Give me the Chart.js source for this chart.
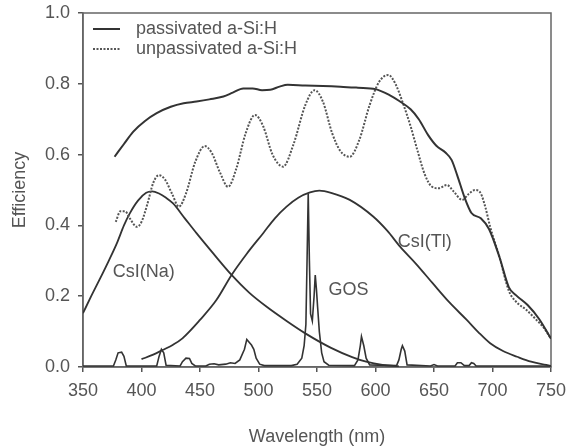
<!DOCTYPE html>
<html>
<head>
<meta charset="utf-8">
<title>Efficiency vs wavelength</title>
<script src="https://cdn.jsdelivr.net/npm/chart.js@4.4.1/dist/chart.umd.min.js"></script>
<style>
  html, body { margin: 0; padding: 0; background: #fff; }
  #chart { display: block; }
</style>
</head>
<body>
<canvas id="chart" width="568" height="448"></canvas>
<script>
const xTicks = [350, 400, 450, 500, 550, 600, 650, 700, 750];
const yTicks = [0, 0.2, 0.4, 0.6, 0.8, 1.0];

const passivatedWl = [377, 385, 393, 403, 413, 425, 436, 447, 458, 470, 478, 487, 495, 503, 510, 518, 525, 540, 555, 570, 585, 600, 612, 620, 630, 637, 645, 652, 660, 665, 670, 676, 682, 690, 697, 706, 714, 720, 730, 740, 750];
const passivatedEff = [0.594, 0.63, 0.665, 0.695, 0.717, 0.735, 0.745, 0.75, 0.756, 0.764, 0.775, 0.787, 0.787, 0.782, 0.783, 0.792, 0.797, 0.795, 0.794, 0.792, 0.789, 0.785, 0.768, 0.752, 0.728, 0.70, 0.655, 0.625, 0.605, 0.585, 0.54, 0.48, 0.435, 0.42, 0.39, 0.31, 0.225, 0.203, 0.175, 0.135, 0.08];

const unpassivatedWl = [378, 382, 386, 390, 396, 400, 405, 410, 415, 420, 426, 432, 438, 446, 454, 460, 467, 474, 481, 489, 497, 504, 512, 521, 530, 540, 548, 555, 563, 570, 578, 586, 595, 603, 611, 617, 624, 630, 636, 642, 648, 654, 661, 667, 674, 680, 685, 690, 694, 698, 706, 714, 720, 729, 737, 744, 750];
const unpassivatedEff = [0.41, 0.44, 0.44, 0.42, 0.396, 0.41, 0.46, 0.52, 0.542, 0.53, 0.49, 0.453, 0.49, 0.58, 0.624, 0.605, 0.55, 0.509, 0.56, 0.66, 0.712, 0.68, 0.6, 0.566, 0.63, 0.74, 0.782, 0.75, 0.66, 0.61, 0.594, 0.64, 0.74, 0.805, 0.825, 0.8, 0.74, 0.68, 0.61, 0.545, 0.51, 0.505, 0.514, 0.495, 0.472, 0.49, 0.5, 0.49, 0.45, 0.396, 0.31, 0.215, 0.185, 0.161, 0.135, 0.11, 0.08];

const csiNaWl = [350, 357, 364, 372, 379, 385, 390, 397, 404, 409, 415, 421, 427, 437, 447, 462, 477, 492, 507, 524, 540, 562, 580, 592, 606, 620];
const csiNaEff = [0.152, 0.2, 0.246, 0.3, 0.35, 0.4, 0.434, 0.47, 0.492, 0.496, 0.49, 0.478, 0.462, 0.42, 0.378, 0.318, 0.26, 0.21, 0.17, 0.13, 0.095, 0.054, 0.028, 0.015, 0.006, 0.002];

const csiTlWl = [400, 410, 418, 427, 435, 450, 464, 477, 490, 504, 514, 524, 534, 544, 552, 562, 578, 598, 610, 621, 635, 649, 663, 678, 688, 698, 709, 721, 733, 746, 750];
const csiTlEff = [0.022, 0.035, 0.048, 0.063, 0.081, 0.133, 0.189, 0.26, 0.32, 0.378, 0.42, 0.453, 0.478, 0.493, 0.498, 0.492, 0.472, 0.425, 0.385, 0.34, 0.29, 0.236, 0.183, 0.133, 0.098, 0.067, 0.045, 0.029, 0.015, 0.006, 0.003];

const gosWl = [350, 376, 378, 380, 383, 385, 387, 413, 415, 417, 419, 421, 433, 435, 438, 441, 443, 446, 455, 458, 462, 466, 472, 476, 480, 484, 488, 490, 492, 494, 496, 498, 501, 505, 528, 533, 537, 539, 540.5, 541.5, 542.5, 543.5, 544.5, 546, 547.5, 548.5, 549.5, 550.5, 552, 554, 556, 560, 582, 585, 587, 588, 590, 592, 595, 618, 620, 622, 623, 625, 627, 647, 650, 653, 668, 670, 673, 676, 680, 682, 684, 686, 750];
const gosEff = [0.003, 0.003, 0.02, 0.04, 0.042, 0.03, 0.003, 0.003, 0.03, 0.05, 0.04, 0.005, 0.003, 0.015, 0.025, 0.024, 0.01, 0.003, 0.003, 0.008, 0.009, 0.006, 0.008, 0.012, 0.01, 0.02, 0.05, 0.078, 0.07, 0.062, 0.05, 0.025, 0.008, 0.004, 0.004, 0.008, 0.025, 0.06, 0.12, 0.3, 0.49, 0.3, 0.15, 0.13, 0.2, 0.26, 0.22, 0.17, 0.1, 0.04, 0.015, 0.005, 0.004, 0.02, 0.06, 0.086, 0.06, 0.025, 0.006, 0.004, 0.02, 0.05, 0.06, 0.045, 0.006, 0.003, 0.007, 0.003, 0.003, 0.012, 0.012, 0.004, 0.004, 0.012, 0.01, 0.003, 0.003];

const curveNames = ['CsI(Na)', 'GOS', 'CsI(Tl)'];
const curveNameWl = [402, 577, 642];
const curveNameEff = [0.268, 0.217, 0.352];

const FONT = "'Liberation Sans', Arial, sans-serif";
const TEXT = '#555';
const INK = '#333';

function toPoints(xs, ys) {
    return xs.map((x, i) => ({ x: x, y: ys[i] }));
}

// box around the plot area (top and right sides are not drawn by the axes)
const framePlugin = {
    id: 'frame',
    beforeDatasetsDraw(chart) {
        const { ctx, chartArea } = chart;
        ctx.save();
        ctx.strokeStyle = '#666';
        ctx.lineWidth = 1.5;
        ctx.strokeRect(chartArea.left, chartArea.top, chartArea.right - chartArea.left, chartArea.bottom - chartArea.top);
        ctx.restore();
    }
};

// curve names next to the curves and the two-line legend in the corner
const notesPlugin = {
    id: 'notes',
    afterDatasetsDraw(chart) {
        const { ctx, chartArea, scales } = chart;
        ctx.save();
        ctx.font = '18px ' + FONT;
        ctx.fillStyle = TEXT;
        ctx.textBaseline = 'middle';
        ctx.textAlign = 'center';
        curveNames.forEach((name, i) => {
            ctx.fillText(name, scales.x.getPixelForValue(curveNameWl[i]), scales.y.getPixelForValue(curveNameEff[i]));
        });

        ctx.textAlign = 'left';
        [0, 1].forEach((idx, row) => {
            const ds = chart.data.datasets[idx];
            const y = chartArea.top + 16 + row * 20;
            const x0 = chartArea.left + 10;
            ctx.strokeStyle = ds.borderColor;
            ctx.lineWidth = ds.borderWidth;
            ctx.setLineDash(ds.borderDash || []);
            ctx.beginPath();
            ctx.moveTo(x0, y);
            ctx.lineTo(x0 + 27, y);
            ctx.stroke();
            ctx.setLineDash([]);
            ctx.fillText(ds.label, x0 + 43, y);
        });
        ctx.restore();
    }
};

const ctx = document.getElementById('chart').getContext('2d');
new Chart(ctx, {
    type: 'line',
    data: {
        datasets: [
            {
                label: 'passivated a-Si:H',
                data: toPoints(passivatedWl, passivatedEff),
                borderColor: INK,
                borderWidth: 2,
                cubicInterpolationMode: 'monotone'
            },
            {
                label: 'unpassivated a-Si:H',
                data: toPoints(unpassivatedWl, unpassivatedEff),
                borderColor: '#555',
                borderWidth: 2,
                borderDash: [2, 1.5],
                cubicInterpolationMode: 'monotone'
            },
            {
                label: 'CsI(Na)',
                data: toPoints(csiNaWl, csiNaEff),
                borderColor: INK,
                borderWidth: 1.8,
                cubicInterpolationMode: 'monotone'
            },
            {
                label: 'CsI(Tl)',
                data: toPoints(csiTlWl, csiTlEff),
                borderColor: INK,
                borderWidth: 1.8,
                cubicInterpolationMode: 'monotone'
            },
            {
                label: 'GOS',
                data: toPoints(gosWl, gosEff),
                borderColor: INK,
                borderWidth: 1.6,
                tension: 0
            }
        ]
    },
    options: {
        responsive: false,
        animation: false,
        devicePixelRatio: 1,
        layout: { padding: { left: 0, right: 17, top: 13, bottom: 0 } },
        elements: { point: { radius: 0 }, line: { fill: false } },
        plugins: {
            legend: { display: false },
            tooltip: { enabled: false }
        },
        scales: {
            x: {
                type: 'linear',
                min: 350,
                max: 750,
                afterBuildTicks: s => { s.ticks = xTicks.map(v => ({ value: v })); },
                afterFit: s => { s.height = 81; s.paddingLeft = 0; s.paddingRight = 0; },
                ticks: { color: TEXT, font: { family: FONT, size: 18 }, padding: 8, maxRotation: 0 },
                grid: { drawOnChartArea: false, tickLength: 5, color: '#555', lineWidth: 1.5 },
                border: { color: '#666', width: 1.5 },
                title: { display: true, text: 'Wavelength (nm)', color: TEXT, font: { family: FONT, size: 18 }, padding: { top: 0, bottom: 0 } }
            },
            y: {
                min: 0,
                max: 1,
                afterBuildTicks: s => { s.ticks = yTicks.map(v => ({ value: v })); },
                afterFit: s => { s.width = 83; s.paddingTop = 0; s.paddingBottom = 0; },
                ticks: { color: TEXT, font: { family: FONT, size: 18 }, padding: 8, callback: v => v.toFixed(1) },
                grid: { drawOnChartArea: false, tickLength: 5, color: '#555', lineWidth: 1.5 },
                border: { color: '#666', width: 1.5 },
                title: { display: true, text: 'Efficiency', color: TEXT, font: { family: FONT, size: 18 }, padding: { top: 9, bottom: 0 } }
            }
        }
    },
    plugins: [framePlugin, notesPlugin]
});
</script>
</body>
</html>
